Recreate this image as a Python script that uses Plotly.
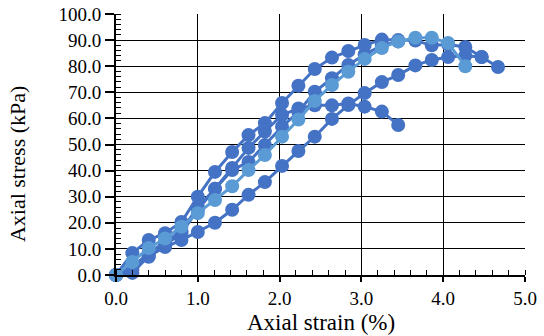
import plotly.graph_objects as go

strain = [0.0, 0.2, 0.4, 0.6, 0.8, 1.0, 1.21, 1.42, 1.62, 1.82, 2.03, 2.23, 2.43, 2.64,
          2.84, 3.04, 3.25, 3.45, 3.66, 3.86, 4.06, 4.27, 4.47, 4.67]

stress_a = [0, 0.8, 7.3, 10.7, 13.4, 16.5, 20.0, 25.0, 30.7, 35.6, 41.8, 47.5, 53.0, 59.8,
            65.1, 69.7, 73.9, 76.6, 80.3, 82.4, 83.5, 84.0, 83.5, 79.7]
stress_b = [0, 8.4, 13.4, 16.0, 20.3, 30.0, 39.5, 47.1, 53.6, 58.2, 65.9, 72.5, 78.9, 83.3,
            85.8, 88.1, 90.2, 90.0, 89.8, 88.0, 88.3, 87.4, 83.5]
stress_c = [0, 3.0, 8.5, 12.5, 17.0, 26.0, 33.0, 40.2, 43.3, 49.8, 56.8, 62.5, 70.2, 75.4,
            80.5, 84.5, 88.0, 89.5]
stress_d = [0, 2.0, 7.0, 11.5, 16.0, 25.0, 33.0, 41.0, 48.7, 55.0, 61.3, 63.8, 65.0, 65.0,
            65.7, 64.5, 62.6, 57.5]
stress_l = [0, 5.0, 10.3, 14.0, 18.5, 23.7, 28.7, 34.0, 40.2, 46.0, 53.0, 59.6, 66.7, 72.8,
            77.9, 82.8, 87.0, 89.5, 90.9, 90.9, 88.9, 80.0]

x_title = "Axial strain (%)"
y_title = "Axial stress (kPa)"

dark = "#4472C4"
light = "#5B9BD5"

fig = go.Figure()
for ys, col in [(stress_a, dark), (stress_d, dark), (stress_c, dark), (stress_b, dark), (stress_l, light)]:
    fig.add_trace(go.Scatter(
        x=strain[:len(ys)], y=ys, mode="lines+markers",
        line=dict(color=col, width=3),
        marker=dict(color=col, size=14, line=dict(width=0)),
        showlegend=False, cliponaxis=False,
    ))

serif = "Liberation Serif"
fig.update_layout(
    width=544, height=336,
    margin=dict(l=116, r=19, t=14, b=61),
    paper_bgcolor="white", plot_bgcolor="white",
    font=dict(family=serif, size=19, color="black"),
    annotations=[
        dict(text=x_title, xref="paper", yref="paper", x=0.5, y=0, xanchor="center",
             yanchor="middle", yshift=-47, showarrow=False, font=dict(family=serif, size=23)),
        dict(text=y_title, xref="paper", yref="paper", x=0, y=0.425, xanchor="center",
             yanchor="middle", xshift=-99, textangle=-90, showarrow=False,
             font=dict(family=serif, size=22)),
    ],
)
fig.update_xaxes(
    range=[0, 5], dtick=1, tickformat=".1f", automargin=False,
    showgrid=True, gridcolor="black", gridwidth=1.3,
    showline=True, linecolor="black", linewidth=2,
    ticks="outside", ticklen=5, tickwidth=1.5, tickcolor="black",
    minor=dict(dtick=0.2, ticks="inside", ticklen=5, tickwidth=1.3, tickcolor="black", showgrid=False),
    zeroline=False, ticklabeloverflow="allow",
    tickfont=dict(family=serif, size=19),
)
fig.update_yaxes(
    range=[0, 100], dtick=10, tickformat=".1f", automargin=False,
    showgrid=True, gridcolor="black", gridwidth=1.3,
    showline=True, linecolor="black", linewidth=2,
    ticks="outside", ticklen=9, tickwidth=1.5, tickcolor="black",
    minor=dict(dtick=2, ticks="inside", ticklen=5, tickwidth=1.3, tickcolor="black", showgrid=False),
    zeroline=False, ticklabeloverflow="allow",
    tickfont=dict(family=serif, size=19),
)

# remove the default 8px page margin so the figure sits at the window's top-left corner
fig.write_html("out.html", config={"displayModeBar": False},
               post_script="document.body.style.margin='0px';")
